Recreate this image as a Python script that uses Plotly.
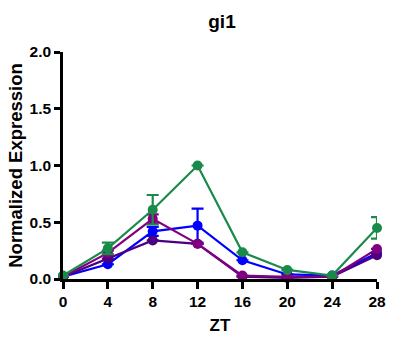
import plotly.graph_objects as go

zt = [0, 4, 8, 12, 16, 20, 24, 28]
x_ticks = [0, 4, 8, 12, 16, 20, 24, 28]
y_ticks = [0.0, 0.5, 1.0, 1.5, 2.0]
y_tick_labels = ["0.0", "0.5", "1.0", "1.5", "2.0"]

green = [0.03, 0.27, 0.61, 1.00, 0.235, 0.08, 0.03, 0.45]
green_err = [0.0, 0.05, 0.13, 0.0, 0.0, 0.0, 0.0, 0.095]
blue = [0.02, 0.13, 0.42, 0.47, 0.165, 0.04, 0.03, 0.23]
blue_err = [0.0, 0.0, 0.04, 0.15, 0.0, 0.0, 0.0, 0.0]
magenta = [0.02, 0.23, 0.53, 0.31, 0.03, 0.02, 0.02, 0.265]
magenta_err = [0.0, 0.02, 0.04, 0.0, 0.0, 0.0, 0.0, 0.0]
indigo = [0.02, 0.18, 0.34, 0.31, 0.02, 0.01, 0.02, 0.21]
indigo_err = [0.0, 0.0, 0.0, 0.0, 0.0, 0.0, 0.0, 0.0]

series = [
    ("blue", blue, blue_err, "#0000FF"),
    ("indigo", indigo, indigo_err, "#4B0082"),
    ("magenta", magenta, magenta_err, "#800080"),
    ("green", green, green_err, "#1A8A4A"),
]

fig = go.Figure()
for name, ys, err, col in series:
    fig.add_trace(go.Scatter(
        x=zt, y=ys, mode="lines+markers", name=name,
        line=dict(color=col, width=2.2),
        marker=dict(color=col, size=10),
        error_y=dict(type="data", array=err, visible=True, color=col, thickness=2.2, width=6),
        cliponaxis=False,
    ))

font_bold = "Liberation Sans"
fig.update_layout(
    width=395, height=341,
    margin=dict(l=63, r=9, t=52, b=60),
    paper_bgcolor="white", plot_bgcolor="white",
    showlegend=False,
    title=dict(text="<b>gi1</b>", x=222 / 395, xanchor="center", y=1 - 21 / 341, yanchor="middle",
               font=dict(family=font_bold, size=19, color="black")),
    font=dict(family=font_bold, color="black"),
)
fig.update_xaxes(
    range=[0, 28], tickvals=x_ticks, ticktext=[f"<b>{v}</b>" for v in x_ticks],
    showgrid=False, zeroline=False, showline=True, linecolor="black", linewidth=2.5,
    ticks="outside", ticklen=7, tickwidth=2.5, tickcolor="black",
    tickfont=dict(size=15.5, family=font_bold, color="black"),
    title=dict(text="<b>ZT</b>", font=dict(size=17, family=font_bold, color="black"), standoff=10),
)
fig.update_yaxes(
    range=[0, 2], tickvals=y_ticks, ticktext=[f"<b>{t}</b>" for t in y_tick_labels],
    showgrid=False, zeroline=False, showline=True, linecolor="black", linewidth=2.5,
    ticks="outside", ticklen=6, tickwidth=2.5, tickcolor="black",
    tickfont=dict(size=15.5, family=font_bold, color="black"),
    title=dict(text="<b>Normalized Expression</b>", font=dict(size=18.5, family=font_bold, color="black"), standoff=3),
)
fig.write_html("out.html")
